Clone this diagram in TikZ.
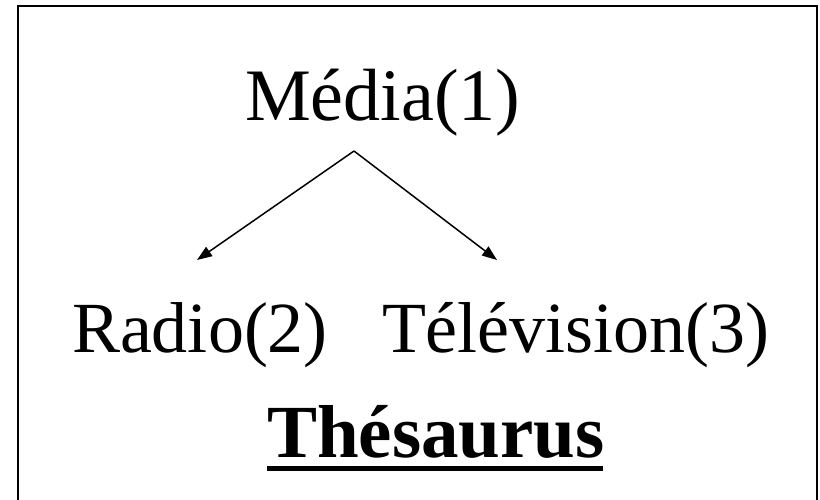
\documentclass[tikz,border=0pt]{standalone}
\usepackage{fontspec}
\setmainfont{Liberation Serif}
\usetikzlibrary{arrows.meta}
\tikzset{
  lbl/.style={anchor=base west, inner sep=0pt, outer sep=0pt, font=\fontsize{72}{86}\selectfont},
  arr/.style={line width=1.5pt, -{Triangle[length=15pt,width=11pt]}},
  frame/.style={line width=2pt}
}
\begin{document}
\begin{tikzpicture}[x=1pt,y=-1pt]
\useasboundingbox (0,0) rectangle (820,499);
\draw[frame] (18,520) -- (18,6) -- (817,6) -- (817,520);
\node[lbl, font=\fontsize{74}{88}\selectfont] (media) at (245,120) {Média(1)};
\node[lbl] (radio) at (72,352) {Radio(2)};
\node[lbl] (tele) at (382,352) {Télévision(3)};
\node[lbl, font=\fontsize{75}{90}\selectfont\bfseries] (thes) at (267,457) {Thésaurus};
\coordinate (top) at (354,151);
\coordinate (ltip) at (197,260);
\coordinate (rtip) at (497,260);
\draw[arr] (top) -- (ltip);
\draw[arr] (top) -- (rtip);
\draw[line width=5pt] (267,468.5) -- (603,468.5);
\end{tikzpicture}
\end{document}
